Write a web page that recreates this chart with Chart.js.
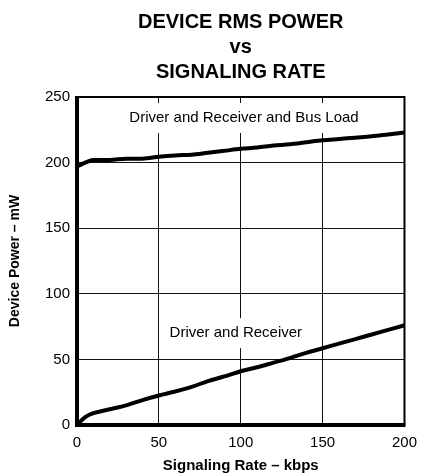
<!DOCTYPE html>
<html>
<head>
<meta charset="utf-8">
<script src="https://cdn.jsdelivr.net/npm/chart.js@4/dist/chart.umd.min.js"></script>
<style>
  html, body { margin: 0; padding: 0; background: #fff; }
  #wrap { width: 426px; height: 476px; position: relative; }
</style>
</head>
<body>
<div id="wrap"><canvas id="c"></canvas></div>
<script>
// ---- Data ----
const titleLines = ['DEVICE RMS POWER', 'vs', 'SIGNALING RATE'];
const xAxisTitle = 'Signaling Rate – kbps';
const yAxisTitle = 'Device Power – mW';
const signalingRate = [0, 5, 10, 20, 30, 40, 50, 60, 70, 80, 90, 100, 110, 120, 130, 140, 150, 160, 170, 180, 190, 200];
const powerBusLoad  = [197, 200, 202, 202, 203, 203, 204.5, 205.5, 206, 207.5, 209, 210.5, 211.5, 213, 214, 215.5, 217, 218, 219, 220, 221.5, 223];
const powerDrvRcv   = [0, 6, 9, 12, 15, 19, 22.5, 25.5, 29, 33.5, 37, 41, 44, 47.5, 51, 55, 58.5, 62, 65.5, 69, 72.5, 76];
const seriesNames   = ['Driver and Receiver and Bus Load', 'Driver and Receiver'];
const labelAnchors  = [[102, 234], [97, 70]]; // data coords for the curve labels
const xTicks = [0, 50, 100, 150, 200];
const yTicks = [0, 50, 100, 150, 200, 250];

const toPoints = (xs, ys) => xs.map((x, i) => ({ x: x, y: ys[i] }));

const FONT = 'Arial, "Liberation Sans", Helvetica, sans-serif';

const curveLabels = {
  id: 'curveLabels',
  beforeDatasetsDraw(chart) {
    const { ctx, scales: { x, y } } = chart;
    ctx.save();
    ctx.font = '15px ' + FONT;
    ctx.textAlign = 'center';
    ctx.textBaseline = 'middle';
    seriesNames.forEach((name, i) => {
      const px = x.getPixelForValue(labelAnchors[i][0]);
      const py = y.getPixelForValue(labelAnchors[i][1]);
      const w = ctx.measureText(name).width + 20;
      ctx.fillStyle = '#fff';
      ctx.fillRect(px - w / 2, py - 15, w, 30);
      ctx.fillStyle = '#000';
      ctx.fillText(name, px, py);
    });
    ctx.restore();
  }
};

const frame = {
  id: 'frame',
  afterDatasetsDraw(chart) {
    const { ctx, chartArea: a } = chart;
    ctx.save();
    ctx.strokeStyle = '#000';
    ctx.lineWidth = 2;
    ctx.beginPath();
    ctx.moveTo(a.left, a.top);
    ctx.lineTo(a.right, a.top);
    ctx.lineTo(a.right, a.bottom);
    ctx.stroke();
    ctx.lineWidth = 4;
    ctx.beginPath();
    ctx.moveTo(a.left, a.top - 1);
    ctx.lineTo(a.left, a.bottom);
    ctx.lineTo(a.right + 1, a.bottom);
    ctx.stroke();
    ctx.restore();
  }
};

new Chart(document.getElementById('c'), {
  type: 'line',
  data: {
    datasets: [
      { label: seriesNames[0], data: toPoints(signalingRate, powerBusLoad),
        borderColor: '#000', borderWidth: 4, pointRadius: 0, cubicInterpolationMode: 'monotone', fill: false },
      { label: seriesNames[1], data: toPoints(signalingRate, powerDrvRcv),
        borderColor: '#000', borderWidth: 4, pointRadius: 0, cubicInterpolationMode: 'monotone', fill: false }
    ]
  },
  options: {
    responsive: true,
    maintainAspectRatio: false,
    animation: false,
    devicePixelRatio: 1,
    layout: { padding: { left: 0, right: 21, top: 0, bottom: 0 } },
    plugins: {
      legend: { display: false },
      tooltip: { enabled: false },
      title: {
        display: true,
        text: titleLines,
        fullSize: false,
        color: '#000',
        font: { family: FONT, size: 20, weight: 'bold', lineHeight: 1.25 },
        padding: { top: 9.5, bottom: 12.5 }
      }
    },
    scales: {
      x: {
        type: 'linear', min: 0, max: 200,
        afterBuildTicks: s => { s.ticks = xTicks.map(v => ({ value: v })); },
        afterFit: s => { s.height = 51; },
        grid: { color: '#111', lineWidth: 1, drawTicks: false },
        border: { display: false },
        ticks: { color: '#000', font: { family: FONT, size: 15 }, padding: 9, maxRotation: 0 },
        title: { display: true, text: xAxisTitle, color: '#000',
                 font: { family: FONT, size: 15, weight: 'bold', lineHeight: 1.2 },
                 padding: { top: 0, bottom: 1 } }
      },
      y: {
        type: 'linear', min: 0, max: 250,
        afterBuildTicks: s => { s.ticks = yTicks.map(v => ({ value: v })); },
        afterFit: s => { s.width = 77; },
        grid: { color: '#111', lineWidth: 1, drawTicks: false },
        border: { display: false },
        ticks: { color: '#000', font: { family: FONT, size: 15 }, padding: 7 },
        title: { display: true, text: yAxisTitle, color: '#000',
                 font: { family: FONT, size: 14, weight: 'bold', lineHeight: 1.2 },
                 padding: { top: 7, bottom: 0 } }
      }
    }
  },
  plugins: [curveLabels, frame]
});
</script>
</body>
</html>
